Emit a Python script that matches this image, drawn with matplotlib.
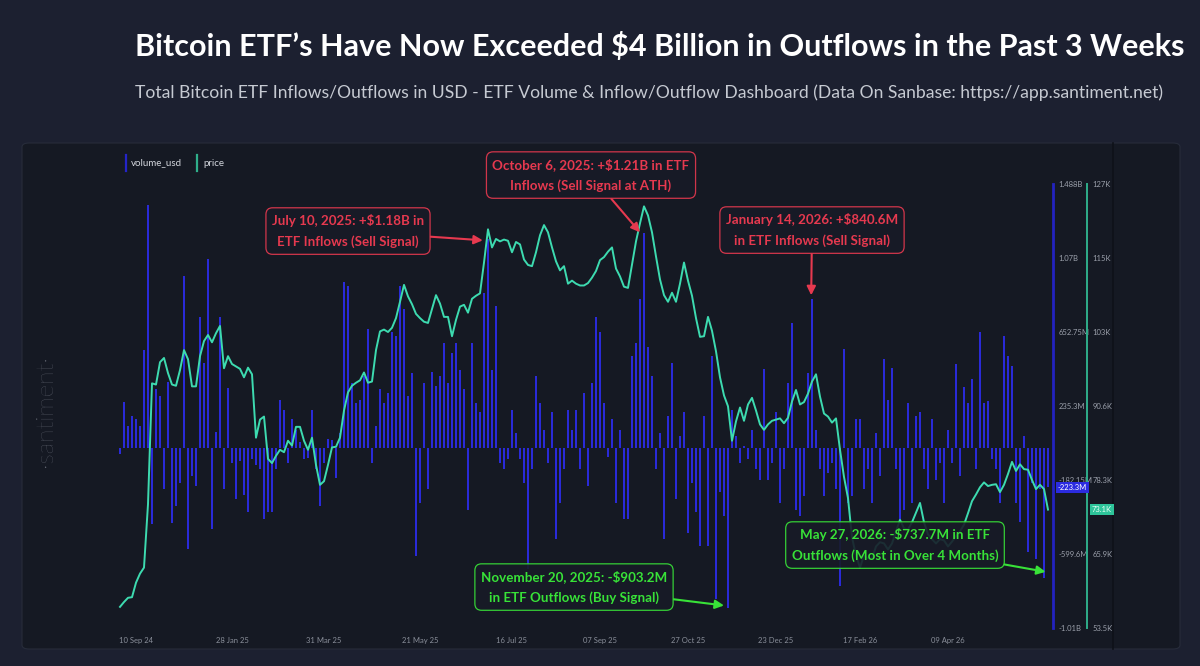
import numpy as np
import matplotlib
matplotlib.use("Agg")
import matplotlib.pyplot as plt
import matplotlib.transforms as mtransforms
from matplotlib.patches import FancyBboxPatch
from matplotlib.lines import Line2D

plt.rcParams['font.family'] = ['Lato', 'DejaVu Sans']

# ETF net flows, millions USD (one bar per trading day)
vol_a = [-38, 260, 120, 180, 160, 120, 550, 1370, -430, 330,
         290, -235, 370, -423, -330, -200, 970, -570, -160, -215,
         740, 480, 1062, -460, 90, 740, -235, 337, -85, -290,
         -75, -265, -365, -65, -100, -120, -400, -365, -365, -120,
         270, 215, -85, 160, 100, 30, -65, -60, 215, -120,
         -330, -85, 50, 45, -170, 85, 935, 910]
vol_b = [367, 255, 270, 405, 667, -85, 120, 330, 255, 310,
         650, 630, 910, 780, 290, 420, -610, -310, 367, -235,
         425, 350, 405, 590, 367, 535, 590, 440, 330, -350,
         590, 255, 200, 875, 1180, 440, 800, -85, -120, -65,
         215, 85, -65, -200, -686, -120, 405, 255, 100, -85,
         200, -517, -310, -120, 215, 100, 215, -120]
vol_c = [310, -215, 367, 740, 650, 255, -50, 160, -310, 100,
         -400, -400, 515, 590, 840, 1210, 570, 405, -120, 85,
         -517, 180, 480, -290, 65, 200, -480, -200, -365, -555,
         180, -555, 515, -855, -250, -385, -903.2, 215, 65, -85,
         10, -65, 100, -120, -180, 442, -180, -85, 200, -310,
         -120, 367, 705, -350, -385, -270, 420]
vol_d = [840.6, 100, -120, -270, -140, -85, -235, -780, 555, -310,
         -270, 160, 160, -235, -120, -310, 85, -160, 500, 270,
         450, -120, -400, -350, 255, -310, 180, 200, -120, -235,
         160, -180, -85, -310, 100, -85, 470, -160, 340, 255,
         385, -120, 650, 255, 265, -65, -120, -310, 630, 520,
         460, -310, -420, 65, -590, -200, -630, -235, -737.7, -223.3]
volume_m = vol_a + vol_b + vol_c + vol_d

# BTC price, thousands USD (same days)
price_k = [57.0, 57.8, 58.5, 58.6, 61.0, 62.5, 63.5, 74.0, 94.0, 93.8,
           97.5, 98.2, 95.7, 93.8, 93.6, 96.2, 99.5, 98.0, 93.5, 93.5,
           98.5, 101.0, 102.0, 100.8, 102.3, 103.5, 96.5, 98.5, 97.2, 96.8,
           96.4, 95.0, 96.6, 95.5, 85.0, 88.0, 88.5, 81.5, 80.8, 82.0,
           83.0, 82.6, 84.5, 83.7, 86.8, 86.8, 84.5, 83.0, 85.0, 80.5,
           77.2, 77.8, 80.5, 83.4, 83.5, 85.0, 89.5, 92.5, 93.6, 94.1,
           94.5, 95.8, 94.1, 94.3, 99.5, 102.6, 102.9, 102.5, 103.2, 104.8,
           107.5, 110.3, 108.4, 107.1, 105.5, 104.8, 104.2, 104.0, 106.3, 108.6,
           107.2, 105.0, 105.0, 101.8, 104.5, 106.7, 107.0, 105.7, 108.0, 108.5,
           108.9, 114.0, 119.5, 116.5, 117.9, 117.5, 117.8, 117.6, 115.7, 117.4,
           117.0, 114.5, 113.6, 113.4, 115.7, 118.5, 120.2, 119.0, 116.5, 114.2,
           112.7, 113.4, 110.5, 111.0, 110.5, 110.2, 110.2, 110.6, 111.5, 112.6,
           114.4, 114.9, 115.8, 116.5, 113.0, 111.7, 110.0, 109.8, 113.6, 117.5,
           120.5, 123.3, 121.8, 119.0, 115.0, 111.2, 108.6, 107.5, 109.0, 107.5,
           110.5, 114.0, 111.0, 108.5, 104.8, 101.7, 101.8, 105.0, 102.7, 99.3,
           95.0, 92.0, 90.2, 84.5, 87.7, 90.0, 87.8, 90.5, 91.6, 89.5,
           87.2, 86.3, 87.2, 87.8, 88.0, 88.2, 87.4, 88.3, 91.0, 92.9,
           90.5, 90.9, 92.3, 94.3, 95.5, 91.8, 89.0, 88.5, 87.5, 88.2,
           83.0, 78.5, 75.0, 68.5, 65.5, 63.5, 65.5, 65.0, 65.0, 67.0,
           67.7, 67.5, 66.5, 67.5, 69.5, 71.4, 70.0, 69.8, 71.0, 72.6,
           74.2, 71.0, 69.0, 68.2, 67.5, 68.2, 68.0, 67.0, 67.8, 68.7,
           69.5, 70.6, 72.5, 74.5, 75.6, 76.8, 77.6, 77.0, 77.2, 77.3,
           76.0, 77.2, 79.0, 81.0, 79.5, 80.6, 79.8, 79.7, 78.0, 76.5,
           77.2, 76.5, 73.1]

x_labels = ['10 Sep 24', '28 Jan 25', '31 Mar 25', '21 May 25', '16 Jul 25',
            '07 Sep 25', '27 Oct 25', '23 Dec 25', '17 Feb 26', '09 Apr 26']
x_label_days = [4, 28, 51, 75, 98, 120, 142, 164, 185, 207]
vol_tick_labels = ['1.488B', '1.07B', '652.75M', '235.3M', '-182.15M', '-599.6M', '-1.01B']
vol_range = (-1017.05, 1487.65)
price_tick_labels = ['127K', '115K', '103K', '90.6K', '78.3K', '65.9K', '53.5K']
price_range = (53.5, 127.0)

W, H = 1200, 666
BLUE = '#2a2ad8'
TEAL = '#3ddbb0'
RED = '#e6394f'
GREEN = '#38e238'


def fx(px):
    return px / W


def fy(py):
    return 1 - py / H


fig = plt.figure(figsize=(12, 6.66), dpi=100)
fig.patch.set_facecolor('#1c2030')

# dark chart card (behind the axes)
card = FancyBboxPatch((fx(22), fy(649)), fx(1180) - fx(22), fy(143) - fy(649),
                      boxstyle='round,pad=0,rounding_size=0.006',
                      transform=fig.transFigure, fc='#151923', ec='#272c3a', lw=0.8, zorder=-5)
fig.patches.append(card)
fig.add_artist(Line2D([fx(1113)] * 2, [fy(649), fy(143)], color='#0e1119', lw=1.2, zorder=-4))

days = np.arange(len(volume_m))

ax = fig.add_axes([fx(118), fy(628), fx(1053) - fx(118), fy(184) - fy(628)])
ax.set_facecolor('none')
ax.bar(days, volume_m, width=0.65, color=BLUE, lw=0)
ax.set_xlim(-0.5, 233.25)
ax.set_ylim(*vol_range)

ax2 = ax.twinx()
ax2.plot(np.arange(len(price_k)), price_k, color=TEAL, lw=1.4, zorder=3)
ax2.set_ylim(*price_range)

for a in (ax, ax2):
    for s in ['top', 'left', 'bottom']:
        a.spines[s].set_visible(False)
    a.yaxis.tick_right()

ax.spines['right'].set_color('#2323c0')
ax.spines['right'].set_linewidth(2)
ax.set_yticks(np.linspace(vol_range[1], vol_range[0], 7), vol_tick_labels)
ax.set_xticks(x_label_days, x_labels)
ax.tick_params(axis='y', length=0, pad=4, labelsize=5.5, labelcolor='#9ba0ab',
               left=False, labelleft=False, labelright=True)
ax.tick_params(axis='x', length=0, pad=6.5, labelsize=5.5, labelcolor='#8a8f9a')

ax2.spines['right'].set_position(('outward', 34 * 0.72))
ax2.spines['right'].set_color('#2fae8a')
ax2.spines['right'].set_linewidth(1.4)
ax2.set_yticks(np.linspace(price_range[1], price_range[0], 7), price_tick_labels)
ax2.tick_params(axis='y', length=0, pad=4, labelsize=5.5, labelcolor='#9ba0ab')

# last value badges
tr1 = mtransforms.offset_copy(mtransforms.blended_transform_factory(ax.transAxes, ax.transData),
                              fig=fig, x=5, y=0, units='dots')
ax2.text(1.0, volume_m[-1], f'{volume_m[-1]:.1f}M', transform=tr1, ha='left', va='center',
         fontsize=5.5, color='white', zorder=12,
         bbox=dict(boxstyle='square,pad=0.25', fc='#2b2be0', ec='none'))
tr2 = mtransforms.offset_copy(mtransforms.blended_transform_factory(ax2.transAxes, ax2.transData),
                              fig=fig, x=39, y=0, units='dots')
ax2.text(1.0, price_k[-1], f'{price_k[-1]:.1f}K', transform=tr2, ha='left', va='center',
         fontsize=5.5, color='#eafff7', zorder=12,
         bbox=dict(boxstyle='square,pad=0.25', fc='#2ec49a', ec='none'))


def note(text, tip, box_center, color):
    ax2.annotate(text, xy=tip, xycoords=ax.transData,
                 xytext=(fx(box_center[0]), fy(box_center[1])), textcoords='figure fraction',
                 ha='center', va='center', fontsize=9.6, fontweight='bold', color=color,
                 linespacing=1.85, zorder=10, annotation_clip=False,
                 bbox=dict(boxstyle='round,pad=0.45,rounding_size=0.5', fc='#181b27',
                           ec=color, lw=0.9, alpha=0.9),
                 arrowprops=dict(arrowstyle='-|>', color=color, lw=1.5,
                                 mutation_scale=13, shrinkA=0, shrinkB=0))


note('July 10, 2025: +\\$1.18B in\nETF Inflows (Sell Signal)', (90.7, 1170), (348, 231), RED)
note('October 6, 2025: +\\$1.21B in ETF\nInflows (Sell Signal at ATH)', (130.0, 1215), (591, 175), RED)
note('January 14, 2026: +\\$840.6M\nin ETF Inflows (Sell Signal)', (172.8, 860), (812, 230), RED)
note('November 20, 2025: -\\$903.2M\nin ETF Outflows (Buy Signal)', (151.0, -890), (574, 587), GREEN)
note('May 27, 2026: -\\$737.7M in ETF\nOutflows (Most in Over 4 Months)', (231.4, -700), (895, 545), GREEN)

# legend
fig.add_artist(Line2D([fx(126)] * 2, [fy(171), fy(155)], color='#2424c8', lw=1.6))
fig.text(fx(131), fy(163), 'volume_usd', fontsize=7, color='#d2d5dc', va='center')
fig.add_artist(Line2D([fx(197)] * 2, [fy(171), fy(155)], color='#2fae8a', lw=1.6))
fig.text(fx(203), fy(163), 'price', fontsize=7, color='#d2d5dc', va='center')

# watermark
fig.text(fx(45), fy(411), '·santiment·', rotation=90, fontsize=17.5, color='#6a6e79',
         ha='center', va='center', fontweight='light')

# title and subtitle, sized to the reference widths
title = fig.text(fx(135), fy(47), 'Bitcoin ETF’s Have Now Exceeded \\$4 Billion in Outflows in the Past 3 Weeks',
                 fontsize=19, fontweight='bold', color='white', va='center')
sub = fig.text(fx(135), fy(93), 'Total Bitcoin ETF Inflows/Outflows in USD - ETF Volume & Inflow/Outflow '
               'Dashboard (Data On Sanbase: https://app.santiment.net)',
               fontsize=11, color='#c6cad2', va='center')
renderer = fig.canvas.get_renderer()
for t, target in [(title, 1045), (sub, 1027)]:
    w = t.get_window_extent(renderer).width
    t.set_fontsize(t.get_fontsize() * target / w)

fig.savefig('out.png', dpi=100, facecolor=fig.get_facecolor())
